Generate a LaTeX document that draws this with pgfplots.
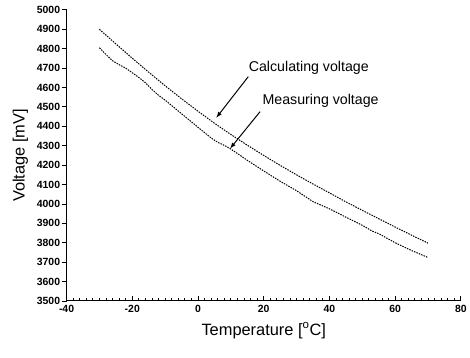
\documentclass[border=0pt]{standalone}
\usepackage{pgfplots}
\pgfplotsset{compat=1.18}
\usepackage{fontspec}
\setmainfont{Liberation Sans}
\begin{document}
\begin{tikzpicture}
\begin{axis}[
  scale only axis,
  width=397pt, height=293pt,
  xmin=-40, xmax=80, ymin=3500, ymax=5000,
  axis lines*=left,
  axis line style={line width=1pt},
  xtick={-40,-20,...,80},
  ytick={3500,3600,...,5000},
  minor x tick num=9,
  tick align=inside,
  major tick length=5pt,
  minor tick length=3pt,
  every tick/.style={black, line width=0.9pt},
  ytick style={xshift=-5pt},
  /pgf/number format/assume math mode=true,
  /pgf/number format/1000 sep={},
  ticklabel style={font=\bfseries\fontsize{10.5}{11}\selectfont},
  yticklabel style={xshift=-3pt},
  xticklabel style={yshift=-1pt},
  xlabel={Temperature [\textsuperscript{o}C]},
  ylabel={Voltage [mV]},
  label style={font=\fontsize{16.5}{18}\selectfont},
  xlabel style={yshift=-3pt},
  ylabel style={yshift=2pt},
  clip=false,
]
\addplot[black, line width=1pt, dash pattern=on 1.5pt off 1.1pt] coordinates {
(-30,4900) (-25,4825) (-20,4751) (-15,4679) (-10,4609) (-5,4542) (0,4478)
(5,4416) (10,4358) (15,4303) (20,4250) (25,4199) (30,4150) (35,4103)
(40,4057) (45,4011) (50,3967) (55,3924) (60,3881) (65,3839) (70,3798)
};
\addplot[black, line width=1pt, dash pattern=on 1.5pt off 1.1pt] coordinates {
(-30,4805) (-28,4770) (-26,4738) (-24,4718) (-22,4700) (-20,4676) (-18,4652)
(-16,4625) (-14,4590) (-12,4560) (-10,4535) (-5,4465) (0,4395) (4,4340)
(6,4318) (8,4302) (10,4283) (15,4225) (20,4170) (25,4117) (30,4068)
(35,4012) (40,3975) (45,3932) (50,3890) (53,3860) (55,3847) (60,3800)
(65,3760) (70,3724)
};
\draw[-latex, line width=1pt] (axis cs:15.3,4656) -- (axis cs:5.6,4445);
\draw[-latex, line width=1pt] (axis cs:18.9,4476) -- (axis cs:9.8,4286);
\node[anchor=west, inner sep=0pt, font=\fontsize{14.3}{16}\selectfont] at (axis cs:15.4,4702) {Calculating voltage};
\node[anchor=west, inner sep=0pt, font=\fontsize{14.3}{16}\selectfont] at (axis cs:19.6,4533) {Measuring voltage};
\end{axis}
\path ([xshift=-67pt,yshift=-57pt]current axis.south west) rectangle ([xshift=6pt,yshift=10pt]current axis.north east);
\end{tikzpicture}
\end{document}
